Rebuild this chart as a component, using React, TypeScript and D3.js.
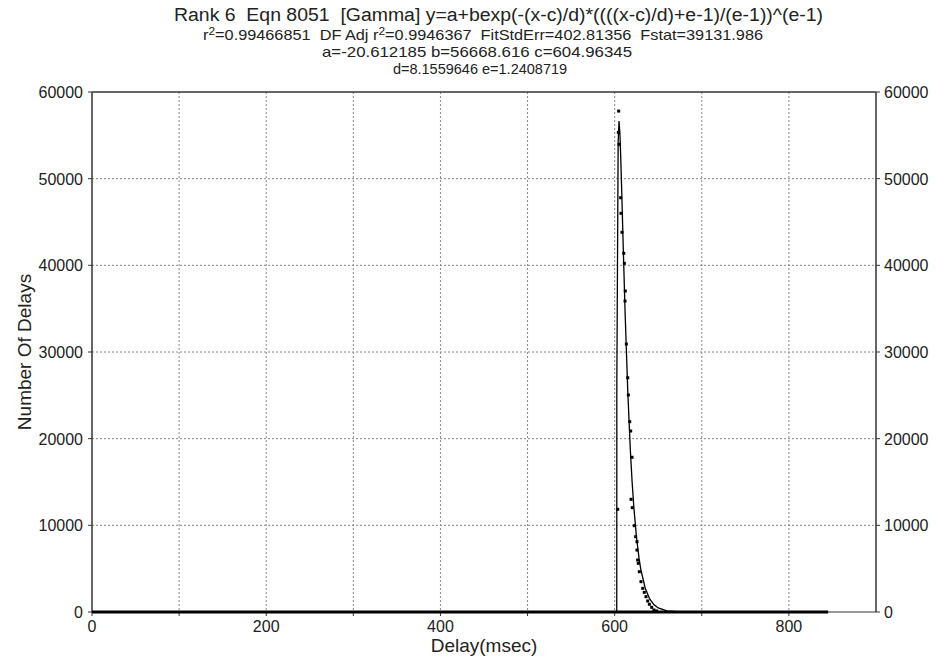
import React from "react";
import * as d3 from "d3";

const xTicks = [0, 200, 400, 600, 800];
const xGrid = [100, 200, 300, 400, 500, 600, 700, 800];
const yTicks = [0, 10000, 20000, 30000, 40000, 50000, 60000];

// observed data points (Delay msec, count)
const dataX = [603.5, 604.6, 604.2, 605.0, 606.9, 607.3, 608.4, 610.4, 611.1, 612.2, 611.9, 613.4, 615.0, 615.7, 617.3, 618.4, 619.9, 618.8, 620.2, 622.5, 624.1, 625.6, 625.6, 626.4, 627.1, 628.3, 630.2, 632.2, 634.0, 636.0, 637.9, 639.8, 642.5, 645.1, 648.2];
const dataY = [11850, 57800, 55350, 53960, 47800, 46000, 43810, 41390, 40230, 37040, 35880, 30920, 27030, 25040, 21960, 20880, 17850, 13000, 12040, 9960, 8690, 8110, 7150, 6000, 5620, 4650, 3500, 2730, 2270, 1770, 1270, 890, 540, 230, 115];
// range of zero-count observations (drawn as a run along the baseline)
const zeroRun = [0, 845];

// fitted gamma curve
const fitX = [602.4, 602.5, 604.0, 605, 606, 607, 608, 610, 612, 615, 618, 620, 622, 625, 628, 630, 635, 640, 645, 650, 660, 680, 700, 845];
const fitY = [0, 26500, 54200, 56650, 55250, 52370, 48890, 41480, 34490, 25580, 18680, 15060, 12100, 8670, 6180, 4930, 2770, 1550, 855, 466, 129, -7, -20, -20];

const titleText = "Rank 6  Eqn 8051  [Gamma] y=a+bexp(-(x-c)/d)*((((x-c)/d)+e-1)/(e-1))^(e-1)";
const statParts = ["0.99466851  DF Adj r", "=0.9946367  FitStdErr=402.81356  Fstat=39131.986"];
const paramLines = ["a=-20.612185 b=56668.616 c=604.96345", "d=8.1559646 e=1.2408719"];
const xTitle = "Delay(msec)";
const yTitle = "Number Of Delays";

export default function App() {
  const W = 936, H = 666;
  const L = 92, R = 876, T = 92, B = 612;
  const x = d3.scaleLinear().domain([0, 900]).range([L, R]);
  const y = d3.scaleLinear().domain([0, 60000]).range([B, T]);
  const line = d3.line<number>().x((_, i) => x(fitX[i])).y((_, i) => y(fitY[i]));
  const font = "'Liberation Sans', Arial, sans-serif";
  const txt = "#222";
  const pre = { whiteSpace: "pre" } as React.CSSProperties;
  return (
    <svg width={W} height={H} style={{ position: "absolute", left: 0, top: 0 }} fontFamily={font}>
      <rect width={W} height={H} fill="#fff" />
      {/* grid */}
      {xGrid.map((v) => (
        <line key={"gx" + v} x1={x(v)} x2={x(v)} y1={T} y2={B} stroke="#888" strokeWidth={1} strokeDasharray="2,2" />
      ))}
      {yTicks.slice(1, -1).map((v) => (
        <line key={"gy" + v} x1={L} x2={R} y1={y(v)} y2={y(v)} stroke="#888" strokeWidth={1} strokeDasharray="2,2" />
      ))}
      {/* frame */}
      <line x1={L} x2={R} y1={T} y2={T} stroke="#333" strokeWidth={1.5} />
      <line x1={L} x2={R} y1={B} y2={B} stroke="#333" strokeWidth={1} />
      <line x1={L} x2={L} y1={T} y2={B} stroke="#333" strokeWidth={1.5} />
      <line x1={R} x2={R} y1={T} y2={B} stroke="#333" strokeWidth={1.5} />
      {/* y ticks */}
      {yTicks.map((v) => (
        <g key={"yt" + v}>
          <line x1={L - 4} x2={L} y1={y(v)} y2={y(v)} stroke="#333" />
          <line x1={R} x2={R + 4} y1={y(v)} y2={y(v)} stroke="#333" />
          <text x={L - 9} y={y(v) + 6} textAnchor="end" fontSize={16} fill={txt}>{v}</text>
          <text x={R + 8} y={y(v) + 6} textAnchor="start" fontSize={16} fill={txt}>{v}</text>
        </g>
      ))}
      {/* x ticks */}
      {xGrid.concat([0]).map((v) => (
        <line key={"xt" + v} x1={x(v)} x2={x(v)} y1={B} y2={B + 4} stroke="#333" />
      ))}
      {xTicks.map((v) => (
        <text key={"xl" + v} x={x(v)} y={B + 20} textAnchor="middle" fontSize={16} fill={txt}>{v}</text>
      ))}
      {/* zero observations */}
      <line x1={x(zeroRun[0])} x2={x(zeroRun[1])} y1={y(0)} y2={y(0)} stroke="#000" strokeWidth={3} />
      {/* fit curve */}
      <path d={line(fitX) || ""} fill="none" stroke="#000" strokeWidth={1.3} />
      {/* points */}
      {dataX.map((v, i) => (
        <rect key={"p" + i} x={x(v) - 1.5} y={y(dataY[i]) - 1.5} width={3} height={3} fill="#000" />
      ))}
      {/* axis titles */}
      <text x={(L + R) / 2} y={652} textAnchor="middle" fontSize={19} fill={txt}>{xTitle}</text>
      <text transform={`translate(31,${(T + B) / 2}) rotate(-90)`} textAnchor="middle" fontSize={19} fill={txt}>{yTitle}</text>
      {/* titles */}
      <text x={174} y={21} fontSize={18} fill={txt} style={pre} textLength={649} lengthAdjust="spacingAndGlyphs">{titleText}</text>
      <text x={203} y={40} fontSize={15} fill={txt} style={pre} textLength={560} lengthAdjust="spacingAndGlyphs">
        r<tspan dy={-5} fontSize={11}>2</tspan><tspan dy={5}>={statParts[0]}</tspan><tspan dy={-5} fontSize={11}>2</tspan><tspan dy={5}>{statParts[1]}</tspan>
      </text>
      <text x={322} y={57} fontSize={15} fill={txt} textLength={310} lengthAdjust="spacingAndGlyphs">{paramLines[0]}</text>
      <text x={480} y={74} textAnchor="middle" fontSize={14.5} fill={txt}>{paramLines[1]}</text>
    </svg>
  );
}
